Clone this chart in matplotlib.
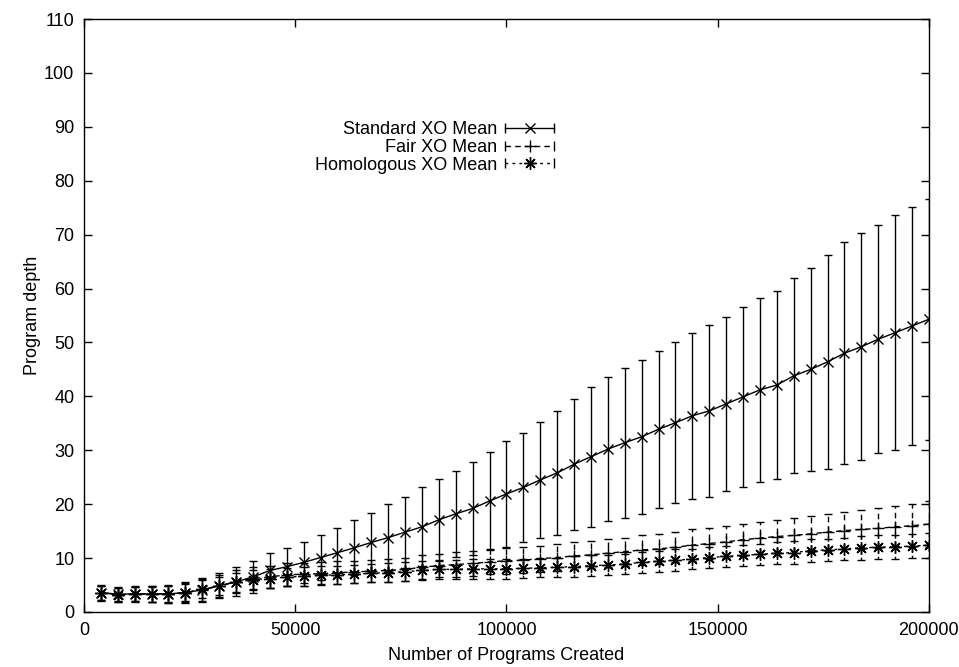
import matplotlib
matplotlib.use("Agg")
from matplotlib import pyplot as plt
from matplotlib.lines import Line2D
from matplotlib.legend import Legend
from matplotlib.legend_handler import HandlerLine2D, HandlerTuple
import numpy as np

plt.rcParams['font.family'] = ['Liberation Sans', 'DejaVu Sans']

# programs created (x), every 4000
created = list(range(4000, 200001, 4000))

std_mean = [3.6, 3.3, 3.35, 3.35, 3.35, 3.6, 4.1, 4.9, 5.6, 6.5,
            7.7, 8.4, 9.2, 10.1, 11.0, 11.9, 12.9, 13.8, 14.8, 15.8,
            17.1, 18.2, 19.2, 20.6, 21.9, 23.1, 24.5, 25.8, 27.4, 28.8,
            30.2, 31.4, 32.5, 33.9, 35.1, 36.4, 37.3, 38.6, 39.9, 41.2,
            42.1, 43.8, 45.0, 46.4, 48.0, 49.2, 50.6, 51.8, 53.05, 54.3]
std_err = [1.4, 1.3, 1.4, 1.5, 1.6, 1.9, 2.2, 2.3, 2.7, 3.0,
           3.2, 3.5, 3.8, 4.2, 4.6, 5.1, 5.5, 6.2, 6.6, 7.3,
           7.6, 8.0, 8.6, 9.1, 9.8, 10.1, 10.7, 11.5, 12.2, 13.0,
           13.4, 13.9, 14.3, 14.6, 14.9, 15.4, 15.9, 16.2, 16.7, 17.1,
           17.4, 18.1, 18.9, 19.8, 20.6, 21.1, 21.2, 21.8, 22.0, 22.4]

fair_mean = [3.5, 3.2, 3.3, 3.4, 3.3, 3.6, 4.1, 4.8, 5.6, 6.2,
             6.5, 6.9, 7.0, 7.1, 7.3, 7.4, 7.6, 7.7, 7.9, 8.3,
             8.6, 8.8, 9.0, 9.3, 9.5, 9.6, 9.9, 10.1, 10.4, 10.6,
             10.9, 11.2, 11.5, 11.7, 12.0, 12.4, 12.7, 13.0, 13.4, 13.7,
             14.0, 14.2, 14.5, 14.8, 15.1, 15.3, 15.5, 15.8, 16.0, 16.3]
fair_err = [1.4, 1.3, 1.4, 1.5, 1.6, 1.8, 2.0, 2.0, 2.1, 2.1,
            2.1, 2.1, 2.1, 2.1, 2.1, 2.1, 2.1, 2.2, 2.2, 2.2,
            2.2, 2.3, 2.3, 2.3, 2.4, 2.4, 2.4, 2.5, 2.5, 2.5,
            2.6, 2.6, 2.7, 2.8, 2.8, 2.9, 2.9, 3.0, 3.0, 3.0,
            3.1, 3.2, 3.3, 3.4, 3.4, 3.6, 3.7, 3.8, 4.0, 4.2]

homo_mean = [3.6, 3.2, 3.3, 3.3, 3.3, 3.6, 4.2, 4.8, 5.5, 6.0,
             6.2, 6.5, 6.6, 6.8, 6.9, 7.0, 7.2, 7.3, 7.5, 7.7,
             7.9, 7.9, 8.0, 8.0, 8.0, 8.1, 8.2, 8.3, 8.4, 8.6,
             8.7, 8.9, 9.2, 9.4, 9.6, 9.8, 10.1, 10.3, 10.5, 10.7,
             10.9, 11.0, 11.4, 11.5, 11.7, 11.9, 12.0, 12.1, 12.2, 12.4]
homo_err = [1.3, 1.3, 1.3, 1.4, 1.5, 1.6, 1.7, 1.7, 1.8, 1.8,
            1.7, 1.7, 1.7, 1.7, 1.7, 1.7, 1.7, 1.8, 1.8, 1.8,
            1.8, 1.8, 1.8, 1.8, 1.8, 1.8, 1.8, 1.8, 1.9, 1.9,
            1.9, 1.9, 2.0, 2.0, 2.0, 1.9, 1.9, 2.0, 2.0, 2.0,
            2.0, 2.1, 2.1, 2.1, 2.1, 2.2, 2.2, 2.2, 2.2, 2.3]

labels = ['Standard XO Mean', 'Fair XO Mean', 'Homologous XO Mean']
styles = ['-', (0, (4, 3)), (0, (2, 3))]
markers = ['x', '+', (8, 2, 0)]
msizes = [7, 8, 9]
means = [std_mean, fair_mean, homo_mean]
errs = [std_err, fair_err, homo_err]

fig = plt.figure(figsize=(9.59, 6.67), dpi=100)
ax = fig.add_axes([0.0876, 0.0825, 0.881, 0.889])

for m, e, ls, mk, ms in zip(means, errs, styles, markers, msizes):
    h = ax.errorbar(created, m, yerr=e, color='black', lw=1, linestyle=ls,
                    elinewidth=1, capsize=3, capthick=1, marker=mk, ms=ms, mew=1)
    h[2][0].set_linestyle(ls)

ax.set_xlim(0, 200000)
ax.set_ylim(0, 110)
ax.set_xticks(range(0, 200001, 50000))
ax.set_yticks(range(0, 111, 10))
ax.tick_params(direction='in', length=6, width=1, top=True, right=True,
               labelsize=13, pad=7)
for s in ax.spines.values():
    s.set_linewidth(1)

ax.set_xlabel('Number of Programs Created', fontsize=13, labelpad=6)
ax.set_ylabel('Program depth', fontsize=13, labelpad=2)

# gnuplot-style key: one legend per row so the labels line up on the right
row_tops = [0.843, 0.813, 0.783]
for lab, ls, mk, ms, top in zip(labels, styles, markers, msizes, row_tops):
    ends = Line2D([], [], color='black', lw=1, linestyle=ls, marker='|', ms=7, mew=1)
    mid = Line2D([], [], color='black', linestyle='none', marker=mk, ms=ms, mew=1)
    leg = Legend(ax, [(ends, mid)], [lab], loc='upper right',
                 bbox_to_anchor=(0.567, top), frameon=False, markerfirst=False,
                 fontsize=13, handlelength=2.7, handletextpad=0.45, borderpad=0,
                 handler_map={ends: HandlerLine2D(numpoints=2, marker_pad=0),
                              tuple: HandlerTuple(ndivide=1)})
    ax.add_artist(leg)

fig.savefig('out.png', dpi=100)
